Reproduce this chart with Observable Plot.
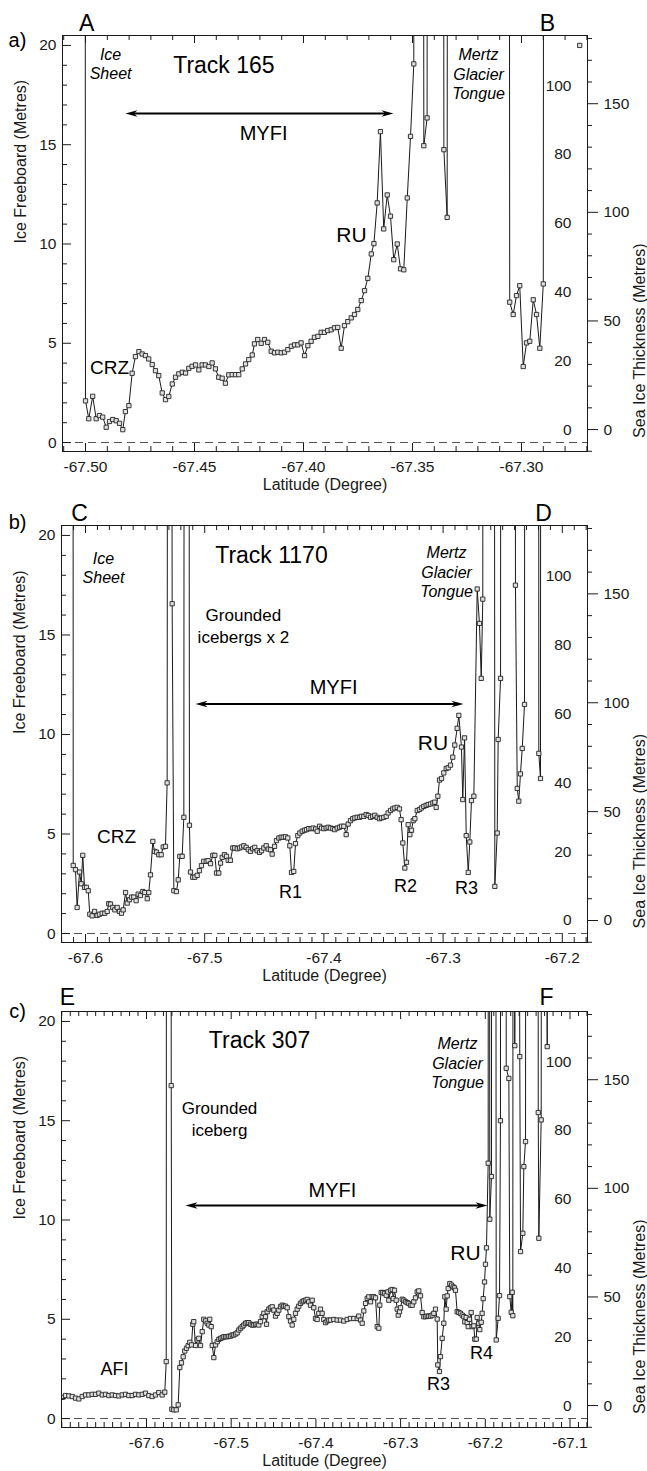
<!DOCTYPE html>
<html><head><meta charset="utf-8">
<script src="https://cdn.jsdelivr.net/npm/d3@7"></script>
<script src="https://cdn.jsdelivr.net/npm/@observablehq/plot@0.6"></script>
<style>
body{margin:0;background:#fff;}
#chart{width:647px;}
#chart svg{display:block;overflow:visible;}
</style></head><body><div id="chart"></div>
<script>
// ---- data: [latitude (deg), ice freeboard (m)]; 100 = off-scale (grounded ice / glacier), null = gap
const track165 = [[-67.5005,100],[-67.5000,2.1],[-67.4985,1.2],[-67.4967,2.33],[-67.4951,1.2],[-67.4936,1.36],[-67.4921,1.28],[-67.4905,0.77],[-67.4890,1.06],[-67.4875,1.16],[-67.4859,1.1],[-67.4844,0.97],[-67.4829,0.65],[-67.4817,1.56],[-67.4801,1.86],[-67.4786,3.49],[-67.4771,4.33],[-67.4755,4.58],[-67.4740,4.46],[-67.4725,4.38],[-67.4710,4.21],[-67.4694,3.93],[-67.4679,3.62],[-67.4664,3.37],[-67.4648,2.5],[-67.4633,2.16],[-67.4618,2.32],[-67.4602,2.95],[-67.4587,3.29],[-67.4572,3.46],[-67.4556,3.54],[-67.4541,3.5],[-67.4526,3.74],[-67.4511,3.84],[-67.4495,3.91],[-67.4480,3.66],[-67.4465,3.91],[-67.4450,3.91],[-67.4434,3.83],[-67.4419,4.01],[-67.4404,3.71],[-67.4389,3.29],[-67.4373,3.24],[-67.4358,2.99],[-67.4343,3.41],[-67.4327,3.42],[-67.4312,3.42],[-67.4297,3.42],[-67.4281,3.71],[-67.4266,3.96],[-67.4251,4.18],[-67.4235,4.41],[-67.4225,4.97],[-67.4210,5.19],[-67.4194,5.0],[-67.4179,5.19],[-67.4164,5.05],[-67.4148,4.6],[-67.4133,4.52],[-67.4118,4.55],[-67.4102,4.52],[-67.4087,4.55],[-67.4072,4.68],[-67.4056,4.85],[-67.4041,4.92],[-67.4026,4.92],[-67.4011,5.02],[-67.3995,4.38],[-67.3980,4.88],[-67.3965,5.1],[-67.3950,5.3],[-67.3934,5.35],[-67.3919,5.55],[-67.3904,5.55],[-67.3889,5.64],[-67.3873,5.68],[-67.3858,5.78],[-67.3843,5.8],[-67.3827,4.75],[-67.3812,5.89],[-67.3797,6.09],[-67.3781,6.28],[-67.3766,6.45],[-67.3751,6.7],[-67.3735,7.15],[-67.3720,7.65],[-67.3705,8.27],[-67.3689,9.5],[-67.3677,10.02],[-67.3662,12.07],[-67.3647,15.66],[-67.3632,10.76],[-67.3616,12.47],[-67.3601,11.4],[-67.3586,9.21],[-67.3570,10.0],[-67.3555,8.75],[-67.3540,8.7],[-67.3524,12.32],[-67.3509,15.42],[-67.3494,19.07],[-67.3489,100],[-67.3455,100],[-67.3448,14.95],[-67.3433,16.35],[-67.3428,100],[-67.3362,100],[-67.3356,14.75],[-67.3341,11.34],[-67.3335,100],[-67.3060,100],[-67.3054,7.07],[-67.3038,6.45],[-67.3023,7.4],[-67.3008,7.9],[-67.2992,3.83],[-67.2977,5.02],[-67.2962,5.1],[-67.2946,7.19],[-67.2931,6.45],[-67.2916,4.75],[-67.2900,7.99],[-67.2895,100],[-67.2800,null],[-67.2733,20.0]];

const track1170 = [[-67.6107,100],[-67.6103,3.42],[-67.6084,3.21],[-67.6070,1.31],[-67.6050,3.09],[-67.6036,2.5],[-67.6023,3.93],[-67.6008,2.32],[-67.5992,2.32],[-67.5977,2.15],[-67.5964,0.97],[-67.5944,0.89],[-67.5924,1.11],[-67.5902,0.91],[-67.5883,0.97],[-67.5860,1.02],[-67.5838,1.02],[-67.5818,1.11],[-67.5805,1.5],[-67.5790,1.48],[-67.5771,1.31],[-67.5754,1.19],[-67.5734,1.31],[-67.5715,1.11],[-67.5698,1.02],[-67.5684,1.19],[-67.5664,2.06],[-67.5650,1.53],[-67.5631,1.7],[-67.5614,1.83],[-67.5595,1.83],[-67.5575,1.65],[-67.5558,1.98],[-67.5539,1.91],[-67.5519,2.11],[-67.5503,2.06],[-67.5482,1.75],[-67.5469,2.06],[-67.5455,2.95],[-67.5435,4.63],[-67.5421,4.13],[-67.5404,4.09],[-67.5385,3.96],[-67.5365,3.96],[-67.5348,4.35],[-67.5329,4.38],[-67.5315,7.57],[-67.5304,100],[-67.5291,100],[-67.5273,16.57],[-67.5259,2.15],[-67.5237,2.11],[-67.5222,2.7],[-67.5209,3.88],[-67.5189,3.88],[-67.5175,5.84],[-67.5165,100],[-67.5140,100],[-67.5128,5.44],[-67.5119,3.09],[-67.5100,2.83],[-67.5083,2.83],[-67.5063,2.92],[-67.5044,3.16],[-67.5027,3.41],[-67.5008,3.63],[-67.4987,3.63],[-67.4971,3.66],[-67.4951,3.51],[-67.4932,3.93],[-67.4915,3.93],[-67.4901,3.04],[-67.4882,3.04],[-67.4867,3.54],[-67.4853,3.83],[-67.4834,3.96],[-67.4817,3.88],[-67.4803,3.68],[-67.4784,3.68],[-67.4764,4.3],[-67.4748,4.3],[-67.4727,4.26],[-67.4708,4.3],[-67.4691,4.35],[-67.4672,4.41],[-67.4652,4.33],[-67.4635,4.21],[-67.4616,4.13],[-67.4597,4.26],[-67.4580,4.33],[-67.4560,4.16],[-67.4540,4.08],[-67.4523,4.16],[-67.4504,4.3],[-67.4484,4.41],[-67.4467,4.24],[-67.4448,4.21],[-67.4434,3.99],[-67.4414,4.38],[-67.4398,4.67],[-67.4378,4.8],[-67.4358,4.84],[-67.4341,4.84],[-67.4322,4.86],[-67.4303,4.8],[-67.4286,4.41],[-67.4272,3.07],[-67.4253,3.12],[-67.4238,4.52],[-67.4219,4.92],[-67.4202,5.05],[-67.4182,5.14],[-67.4163,5.19],[-67.4146,5.22],[-67.4127,5.27],[-67.4107,5.27],[-67.4090,5.3],[-67.4070,5.25],[-67.4056,5.14],[-67.4037,5.39],[-67.4020,5.3],[-67.4001,5.27],[-67.3981,5.3],[-67.3964,5.34],[-67.3945,5.3],[-67.3925,5.27],[-67.3909,5.22],[-67.3888,5.3],[-67.3869,5.34],[-67.3852,5.39],[-67.3833,5.39],[-67.3813,4.97],[-67.3796,5.5],[-67.3777,5.67],[-67.3758,5.77],[-67.3741,5.81],[-67.3721,5.84],[-67.3701,5.84],[-67.3685,5.89],[-67.3665,5.89],[-67.3645,5.98],[-67.3628,5.93],[-67.3609,5.84],[-67.3590,5.89],[-67.3573,5.94],[-67.3553,5.84],[-67.3534,5.77],[-67.3517,5.81],[-67.3498,5.84],[-67.3477,5.89],[-67.3461,6.06],[-67.3441,6.18],[-67.3422,6.26],[-67.3405,6.31],[-67.3385,6.34],[-67.3366,6.26],[-67.3352,5.72],[-67.3338,4.55],[-67.3321,3.29],[-67.3307,3.58],[-67.3293,5.47],[-67.3279,4.97],[-67.3265,5.19],[-67.3251,5.67],[-67.3237,5.77],[-67.3217,6.18],[-67.3198,6.23],[-67.3181,6.31],[-67.3162,6.39],[-67.3142,6.44],[-67.3125,6.48],[-67.3106,6.51],[-67.3086,6.56],[-67.3070,6.6],[-67.3058,6.34],[-67.3044,6.9],[-67.3030,7.71],[-67.3013,7.79],[-67.2994,8.07],[-67.2974,8.29],[-67.2957,8.33],[-67.2938,8.46],[-67.2919,8.86],[-67.2902,9.47],[-67.2882,10.31],[-67.2868,10.96],[-67.2846,9.37],[-67.2835,6.73],[-67.2820,9.83],[-67.2806,4.92],[-67.2789,3.07],[-67.2776,4.6],[-67.2762,6.68],[-67.2742,6.9],[-67.2714,17.31],[-67.2695,15.58],[-67.2680,12.82],[-67.2667,16.8],[-67.2661,100],[-67.2577,100],[-67.2566,2.37],[-67.2546,5.05],[-67.2538,9.75],[-67.2518,12.82],[-67.2510,100],[-67.2399,100],[-67.2393,17.5],[-67.2378,7.29],[-67.2365,6.65],[-67.2351,8.02],[-67.2336,9.3],[-67.2317,11.51],[-67.2309,100],[-67.2201,100],[-67.2197,9.05],[-67.2183,7.79],[-67.2177,100]];

const track307 = [[-67.6995,1.07],[-67.6956,1.16],[-67.6917,1.14],[-67.6877,1.11],[-67.6838,1.03],[-67.6799,0.99],[-67.6759,1.11],[-67.6720,1.19],[-67.6681,1.19],[-67.6641,1.22],[-67.6602,1.22],[-67.6563,1.28],[-67.6523,1.19],[-67.6484,1.22],[-67.6445,1.16],[-67.6405,1.19],[-67.6366,1.16],[-67.6327,1.14],[-67.6287,1.19],[-67.6248,1.22],[-67.6209,1.16],[-67.6169,1.16],[-67.6130,1.22],[-67.6091,1.19],[-67.6051,1.22],[-67.6012,1.28],[-67.5973,1.16],[-67.5933,1.11],[-67.5894,1.19],[-67.5855,1.31],[-67.5815,1.19],[-67.5784,1.33],[-67.5767,2.87],[-67.5758,100],[-67.5719,100],[-67.5708,16.77],[-67.5701,0.47],[-67.5678,0.44],[-67.5649,0.44],[-67.5626,0.69],[-67.5607,2.57],[-67.5587,2.81],[-67.5567,3.11],[-67.5548,3.4],[-67.5528,3.54],[-67.5508,3.67],[-67.5489,3.84],[-67.5469,3.71],[-67.5453,4.75],[-67.5442,4.88],[-67.5421,3.68],[-67.5401,3.96],[-67.5383,4.04],[-67.5362,3.68],[-67.5342,4.38],[-67.5324,5.0],[-67.5303,4.92],[-67.5283,4.8],[-67.5264,4.71],[-67.5253,5.0],[-67.5236,4.63],[-67.5224,3.68],[-67.5205,3.07],[-67.5185,3.71],[-67.5165,3.87],[-67.5146,3.99],[-67.5126,4.04],[-67.5106,4.07],[-67.5087,4.12],[-67.5067,4.12],[-67.5047,4.12],[-67.5028,4.15],[-67.5008,4.15],[-67.4988,4.21],[-67.4969,4.21],[-67.4949,4.26],[-67.4929,4.32],[-67.4910,4.46],[-67.4890,4.55],[-67.4870,4.63],[-67.4851,4.71],[-67.4831,4.8],[-67.4811,4.83],[-67.4792,4.83],[-67.4772,4.75],[-67.4752,4.71],[-67.4733,4.71],[-67.4713,4.75],[-67.4693,4.75],[-67.4674,4.71],[-67.4654,4.88],[-67.4634,5.13],[-67.4615,5.3],[-67.4595,5.13],[-67.4583,4.75],[-67.4575,5.38],[-67.4556,5.51],[-67.4536,5.58],[-67.4516,5.63],[-67.4497,5.46],[-67.4477,5.16],[-67.4457,5.3],[-67.4438,5.46],[-67.4418,5.63],[-67.4398,5.71],[-67.4379,5.66],[-67.4359,5.66],[-67.4339,5.58],[-67.4320,5.13],[-67.4300,4.91],[-67.4280,4.71],[-67.4261,5.0],[-67.4241,5.3],[-67.4221,5.51],[-67.4202,5.66],[-67.4182,5.8],[-67.4162,5.88],[-67.4143,5.93],[-67.4123,5.96],[-67.4103,6.0],[-67.4084,5.88],[-67.4064,5.71],[-67.4044,5.96],[-67.4025,5.58],[-67.4005,5.04],[-67.3985,4.99],[-67.3966,5.3],[-67.3946,5.51],[-67.3926,5.3],[-67.3907,4.99],[-67.3887,4.83],[-67.3867,4.91],[-67.3848,4.96],[-67.3828,4.96],[-67.3789,4.99],[-67.3749,4.96],[-67.3710,4.96],[-67.3671,4.91],[-67.3631,4.99],[-67.3592,5.04],[-67.3553,5.04],[-67.3512,5.04],[-67.3494,5.16],[-67.3473,4.96],[-67.3453,4.8],[-67.3434,5.42],[-67.3414,5.8],[-67.3394,6.05],[-67.3375,6.13],[-67.3355,5.88],[-67.3335,6.13],[-67.3316,6.13],[-67.3296,6.08],[-67.3276,4.63],[-67.3257,4.55],[-67.3246,5.71],[-67.3229,6.35],[-67.3210,6.35],[-67.3190,6.3],[-67.3170,6.21],[-67.3151,6.38],[-67.3139,5.96],[-67.3119,6.46],[-67.3099,6.5],[-67.3087,6.04],[-67.3072,6.46],[-67.3052,5.96],[-67.3040,5.51],[-67.3028,5.21],[-67.3013,5.38],[-67.3001,5.58],[-67.2981,6.01],[-67.2962,5.96],[-67.2942,5.88],[-67.2922,5.84],[-67.2903,5.8],[-67.2883,5.71],[-67.2863,5.71],[-67.2844,5.88],[-67.2824,6.08],[-67.2804,6.38],[-67.2785,6.43],[-67.2765,6.18],[-67.2745,5.34],[-67.2726,5.13],[-67.2706,5.13],[-67.2686,5.16],[-67.2667,5.16],[-67.2647,5.16],[-67.2627,5.21],[-67.2608,5.3],[-67.2588,5.51],[-67.2568,5.01],[-67.2561,2.7],[-67.2541,2.37],[-67.2529,3.12],[-67.2509,4.04],[-67.2490,4.8],[-67.2478,6.13],[-67.2462,5.51],[-67.2450,6.18],[-67.2438,6.55],[-67.2419,6.8],[-67.2399,6.72],[-67.2379,6.63],[-67.2364,6.58],[-67.2352,6.46],[-67.2332,5.38],[-67.2313,5.34],[-67.2293,5.3],[-67.2273,5.21],[-67.2254,5.13],[-67.2242,4.87],[-67.2226,5.09],[-67.2214,4.83],[-67.2202,4.63],[-67.2187,5.0],[-67.2167,5.34],[-67.2155,4.63],[-67.2136,4.67],[-67.2124,4.0],[-67.2107,4.0],[-67.2096,5.09],[-67.2077,4.8],[-67.2065,4.48],[-67.2048,4.85],[-67.2037,5.3],[-67.2025,6.04],[-67.2009,6.88],[-67.1998,7.77],[-67.1986,8.6],[-67.1966,12.86],[-67.1959,100],[-67.1947,10.04],[-67.1927,12.19],[-67.1917,100],[-67.1886,100],[-67.1871,3.96],[-67.1848,5.05],[-67.1832,6.19],[-67.1821,15.0],[-67.1809,100],[-67.1762,100],[-67.1753,17.64],[-67.1722,17.13],[-67.1711,6.14],[-67.1694,5.35],[-67.1682,6.36],[-67.1675,5.18],[-67.1667,100],[-67.1652,18.78],[-67.1632,100],[-67.1593,18.23],[-67.1584,8.41],[-67.1557,9.33],[-67.1545,12.69],[-67.1525,13.95],[-67.1514,100],[-67.1384,100],[-67.1375,15.41],[-67.1368,9.08],[-67.1340,15.04],[-67.1331,100],[-67.1269,18.73],[-67.1266,100]];

// ---- axes
const fbMajor = [0, 5, 10, 15, 20];
const fbMinor = d3.range(0, 21, 1);
const innerLabels = [0, 20, 40, 60, 80, 100];
const thickLabels = [0, 50, 100, 150];
const thickMinor = d3.range(-10, 181, 10);
const xTicksA = [-67.50, -67.45, -67.40, -67.35, -67.30];
const xTicksB = [-67.6, -67.5, -67.4, -67.3, -67.2];
const xTicksC = [-67.6, -67.5, -67.4, -67.3, -67.2, -67.1];
// freeboard-equivalent of right-hand scales
const F0 = 0.655, KT = 0.1094, KI = 0.1732;

// ---- annotations
const notesA = [
  {lat:-67.5312, fb:20.24, text:"a)", size:20, kind:"n"},
  {lat:-67.4995, fb:21.1, text:"A", size:23, kind:"n"},
  {lat:-67.2881, fb:21.1, text:"B", size:23, kind:"n"},
  {lat:-67.4365, fb:18.98, text:"Track 165", size:23, kind:"n"},
  {lat:-67.4183, fb:15.56, text:"MYFI", size:20, kind:"n"},
  {lat:-67.3780, fb:10.42, text:"RU", size:21, kind:"n"},
  {lat:-67.4890, fb:3.78, text:"CRZ", size:19, kind:"n"},
  {lat:-67.4885, fb:19.1, text:"Ice\nSheet", size:16, kind:"i"},
  {lat:-67.3197, fb:18.58, text:"Mertz\nGlacier\nTongue", size:16, kind:"i"}
];
const notesB = [
  {lat:-67.6570, fb:20.64, text:"b)", size:20, kind:"n"},
  {lat:-67.6050, fb:21.1, text:"C", size:23, kind:"n"},
  {lat:-67.2158, fb:21.1, text:"D", size:23, kind:"n"},
  {lat:-67.4440, fb:18.98, text:"Track 1170", size:23, kind:"n"},
  {lat:-67.3919, fb:12.34, text:"MYFI", size:20, kind:"n"},
  {lat:-67.3085, fb:9.57, text:"RU", size:21, kind:"n"},
  {lat:-67.5740, fb:4.88, text:"CRZ", size:19, kind:"n"},
  {lat:-67.4280, fb:2.06, text:"R1", size:18, kind:"n"},
  {lat:-67.3315, fb:2.37, text:"R2", size:18, kind:"n"},
  {lat:-67.2804, fb:2.27, text:"R3", size:18, kind:"n"},
  {lat:-67.4675, fb:15.51, text:"Grounded\nicebergs x 2", size:17, kind:"g"},
  {lat:-67.5849, fb:18.4, text:"Ice\nSheet", size:16, kind:"i"},
  {lat:-67.2971, fb:18.18, text:"Mertz\nGlacier\nTongue", size:16, kind:"i"}
];
const notesC = [
  {lat:-67.7523, fb:20.49, text:"c)", size:20, kind:"n"},
  {lat:-67.6933, fb:21.2, text:"E", size:23, kind:"n"},
  {lat:-67.1277, fb:21.2, text:"F", size:23, kind:"n"},
  {lat:-67.4666, fb:19.03, text:"Track 307", size:23, kind:"n"},
  {lat:-67.3804, fb:11.48, text:"MYFI", size:20, kind:"n"},
  {lat:-67.2234, fb:8.31, text:"RU", size:21, kind:"n"},
  {lat:-67.6378, fb:2.47, text:"AFI", size:18, kind:"n"},
  {lat:-67.2553, fb:1.71, text:"R3", size:18, kind:"n"},
  {lat:-67.2045, fb:3.27, text:"R4", size:18, kind:"n"},
  {lat:-67.5138, fb:15.16, text:"Grounded\niceberg", size:17, kind:"g"},
  {lat:-67.2328, fb:17.93, text:"Mertz\nGlacier\nTongue", size:16, kind:"i"}
];
const arrowA = {fb:16.57, x1:-67.4817, x2:-67.3587};
const arrowB = {fb:11.53, x1:-67.5077, x2:-67.2829};
const arrowC = {fb:10.73, x1:-67.5540, x2:-67.1974};

// ---- drawing
const W = 647, MR = 60, Y0 = -0.45, Y1 = 20.5;
const FONT = "'Liberation Sans', Arial, Helvetica, sans-serif";
const FS = 15.5, FT = 16;
const INK = "#1a1a1a";
const headR = {draw(c){c.moveTo(0,0);c.lineTo(-12,-3.3);c.lineTo(-8.5,0);c.lineTo(-12,3.3);c.closePath();}};
const headL = {draw(c){c.moveTo(0,0);c.lineTo(12,-3.3);c.lineTo(8.5,0);c.lineTo(12,3.3);c.closePath();}};

function panel(p) {
  const [x0, x1] = p.xDomain;
  const pw = W - p.ml - MR, ph = p.height - p.mt - p.mb;
  const kx = pw / (x1 - x0), ky = ph / (Y1 - Y0);
  const ux = px => px / kx, uy = px => px / ky;
  const rows = p.data.map(([lat, fb]) => ({lat, fb}));
  const minorX = d3.range(Math.ceil(x0 * 100 - 1e-9), Math.floor(x1 * 100 + 1e-9) + 1).map(v => v / 100);
  const isMaj = v => p.xTicks.some(t => Math.abs(t - v) < 1e-6);
  const a = p.arrow;
  return Plot.plot({
    width: W, height: p.height,
    marginTop: p.mt, marginBottom: p.mb, marginLeft: p.ml, marginRight: MR,
    x: {domain: [x0, x1], label: null, axis: null},
    y: {domain: [Y0, Y1], label: null, axis: null},
    style: {fontFamily: FONT, fontSize: FS + "px", color: INK, background: "white", overflow: "visible"},
    marks: [
      Plot.ruleY([0], {y: d => d, stroke: "#555", strokeWidth: 1.1, strokeDasharray: "8,5"}),
      Plot.line(rows, {x: "lat", y: "fb", stroke: INK, strokeWidth: 1, clip: true}),
      Plot.dot(rows, {x: "lat", y: "fb", symbol: "square", r: 2.4, fill: "#e0e0e0", stroke: "#222", strokeWidth: 0.9, clip: true}),
      // ticks
      Plot.ruleX(minorX, {x: d => d, y1: () => Y0, y2: d => Y0 + uy(isMaj(d) ? 8 : 5), stroke: INK}),
      Plot.ruleX(minorX, {x: d => d, y1: () => Y1, y2: d => Y1 - uy(isMaj(d) ? 8 : 5), stroke: INK}),
      Plot.ruleY(fbMinor, {y: d => d, x1: () => x0, x2: d => x0 + ux(d % 5 === 0 ? 9 : 5), stroke: INK}),
      Plot.ruleY(thickMinor, {y: t => F0 + KT * t, x1: () => x1, x2: t => x1 + ux(t % 50 === 0 ? 11 : 5), stroke: INK}),
      Plot.frame({stroke: INK}),
      // tick labels
      Plot.axisX(p.xTicks, {tickSize: 0, tickPadding: 9, label: null, fontSize: FS, fontFamily: FONT, tickFormat: d => d.toFixed(p.dec)}),
      Plot.axisY(fbMajor, {tickSize: 0, tickPadding: 6, label: null, fontSize: FS, fontFamily: FONT}),
      Plot.text(innerLabels, {x: () => x1, y: v => F0 + KI * v, text: d => String(d), textAnchor: "end", dx: -16, fontSize: FS, fontFamily: FONT}),
      Plot.text(thickLabels, {x: () => x1, y: t => F0 + KT * t, text: d => String(d), textAnchor: "start", dx: 16, fontSize: FS, fontFamily: FONT}),
      // axis titles
      Plot.text(["Latitude (Degree)"], {frameAnchor: "bottom", dy: 38, fontSize: FT, fontFamily: FONT}),
      Plot.text(["Ice Freeboard (Metres)"], {frameAnchor: "left", rotate: -90, dx: -42, fontSize: FT, fontFamily: FONT}),
      Plot.text(["Sea Ice Thickness (Metres)"], {frameAnchor: "right", rotate: -90, dx: 52, fontSize: FT, fontFamily: FONT}),
      // MYFI arrow
      Plot.ruleY([a], {y: "fb", x1: d => d.x1 + ux(8), x2: d => d.x2 - ux(8), stroke: "#000", strokeWidth: 2}),
      Plot.dot([a], {x: "x2", y: "fb", symbol: headR, fill: "#000", stroke: "none"}),
      Plot.dot([a], {x: "x1", y: "fb", symbol: headL, fill: "#000", stroke: "none"}),
      // annotations
      Plot.text(p.notes.filter(d => d.kind === "n"), {x: "lat", y: "fb", text: "text", fontSize: d => d.size, fontFamily: FONT, fill: "#000"}),
      Plot.text(p.notes.filter(d => d.kind === "i"), {x: "lat", y: "fb", text: "text", fontSize: 16, fontStyle: "italic", lineHeight: 1.22, fontFamily: FONT, fill: "#000"}),
      Plot.text(p.notes.filter(d => d.kind === "g"), {x: "lat", y: "fb", text: "text", fontSize: 17, lineHeight: 1.3, fontFamily: FONT, fill: "#000"})
    ]
  });
}

const chart = document.getElementById("chart");
chart.append(panel({data: track165, xDomain: [-67.51055, -67.26972], xTicks: xTicksA, dec: 2, height: 496, mt: 35, mb: 45, ml: 62, notes: notesA, arrow: arrowA}));
chart.append(panel({data: track1170, xDomain: [-67.62013, -67.17886], xTicks: xTicksB, dec: 1, height: 489, mt: 29, mb: 43, ml: 61, notes: notesB, arrow: arrowB}));
chart.append(panel({data: track307, xDomain: [-67.70035, -67.07934], xTicks: xTicksC, dec: 1, height: 486, mt: 26, mb: 44, ml: 61, notes: notesC, arrow: arrowC}));
</script>
</body></html>
